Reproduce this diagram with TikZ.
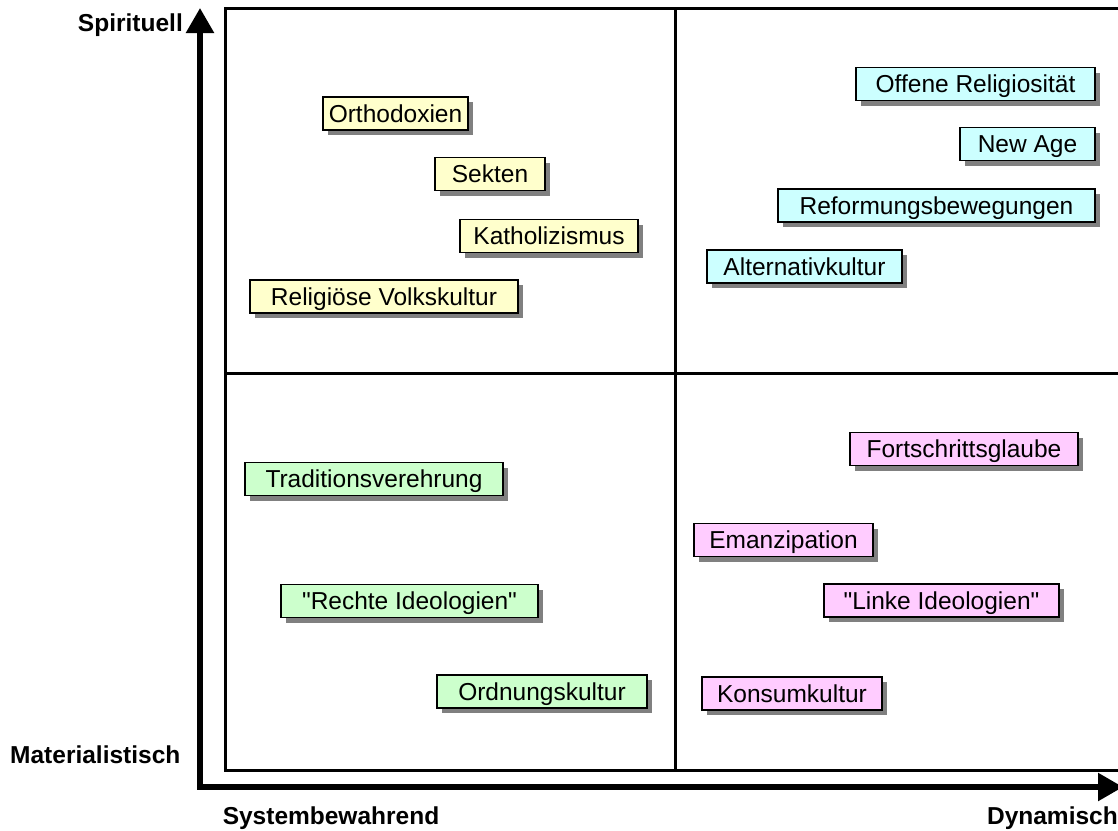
\documentclass[tikz,border=0pt]{standalone}
\usepackage{fontspec}
\setmainfont{Liberation Sans}
\usepackage{xcolor}
\usetikzlibrary{arrows.meta, shadows}
\definecolor{yelfill}{HTML}{FFFFCC}
\definecolor{cyanfill}{HTML}{CCFFFF}
\definecolor{greenfill}{HTML}{CCFFCC}
\definecolor{pinkfill}{HTML}{FFCCFF}
\tikzset{
    axis/.style={line width=5.5pt, {Triangle[length=25pt, width=27pt]}-{Triangle[length=25pt, width=27pt]}},
    frame/.style={line width=3pt},
    axislabel/.style={font=\fontsize{24.5}{28}\selectfont\bfseries, inner sep=0pt},
    entry/.style={draw, line width=1.5pt, inner sep=0pt, minimum height=33pt,
        text height=22pt, text depth=5pt, font=\fontsize{24.5}{28}\selectfont,
        drop shadow={shadow xshift=5pt, shadow yshift=-5pt, fill=black!50, opacity=1}}
}
\begin{document}
\begin{tikzpicture}[x=1pt, y=-1pt]
    \useasboundingbox (0,0) rectangle (1118,830);
    % Axes
    \coordinate (ytop) at (200,8);
    \coordinate (xend) at (1123,787);
    \draw[axis] (ytop) |- (xend);
    \node[axislabel, anchor=base east] (spirit) at (183,31.5) {Spirituell};
    \node[axislabel, anchor=base west] (mat) at (10,763) {Materialistisch};
    \node[axislabel, anchor=base] (sys) at (331,824) {Systembewahrend};
    \node[axislabel, anchor=base east] (dyn) at (1118,824) {Dynamisch};
    % Quadrants
    \draw[frame] (1122,8) -| (225,770) -- (1122,770);
    \draw[frame] (675,8) -- (675,770);
    \draw[frame] (225,373) -- (1122,373);
    % Spirituell, systembewahrend
    \node[entry, fill=yelfill, minimum width=145pt] (ortho) at (395.5,113.5) {Orthodoxien};
    \node[entry, fill=yelfill, minimum width=110pt] (sekten) at (490,174) {Sekten};
    \node[entry, fill=yelfill, minimum width=178pt] (kath) at (549,236) {Katholizismus};
    \node[entry, fill=yelfill, minimum width=268pt] (volk) at (384,296.5) {Religiöse Volkskultur};
    % Spirituell, dynamisch
    \node[entry, fill=cyanfill, minimum width=239pt] (offen) at (975.5,84) {Offene Religiosität};
    \node[entry, fill=cyanfill, minimum width=135pt] (newage) at (1027.5,144) {New Age};
    \node[entry, fill=cyanfill, minimum width=317pt] (reform) at (936.5,205.5) {Reformungsbewegungen};
    \node[entry, fill=cyanfill, minimum width=195pt] (altern) at (804.5,266.5) {Alternativkultur};
    % Materialistisch, systembewahrend
    \node[entry, fill=greenfill, minimum width=258pt] (trad) at (374,479) {Traditionsverehrung};
    \node[entry, fill=greenfill, minimum width=257pt] (rechte) at (409.5,601) {\textquotedbl Rechte Ideologien\textquotedbl};
    \node[entry, fill=greenfill, minimum width=210pt] (ordnung) at (542,691.5) {Ordnungskultur};
    % Materialistisch, dynamisch
    \node[entry, fill=pinkfill, minimum width=228pt] (fort) at (964,449) {Fortschrittsglaube};
    \node[entry, fill=pinkfill, minimum width=179pt] (eman) at (783.5,540) {Emanzipation};
    \node[entry, fill=pinkfill, minimum width=235pt] (linke) at (941.5,600.5) {\textquotedbl Linke Ideologien\textquotedbl};
    \node[entry, fill=pinkfill, minimum width=180pt] (konsum) at (792,693.5) {Konsumkultur};
\end{tikzpicture}
\end{document}
